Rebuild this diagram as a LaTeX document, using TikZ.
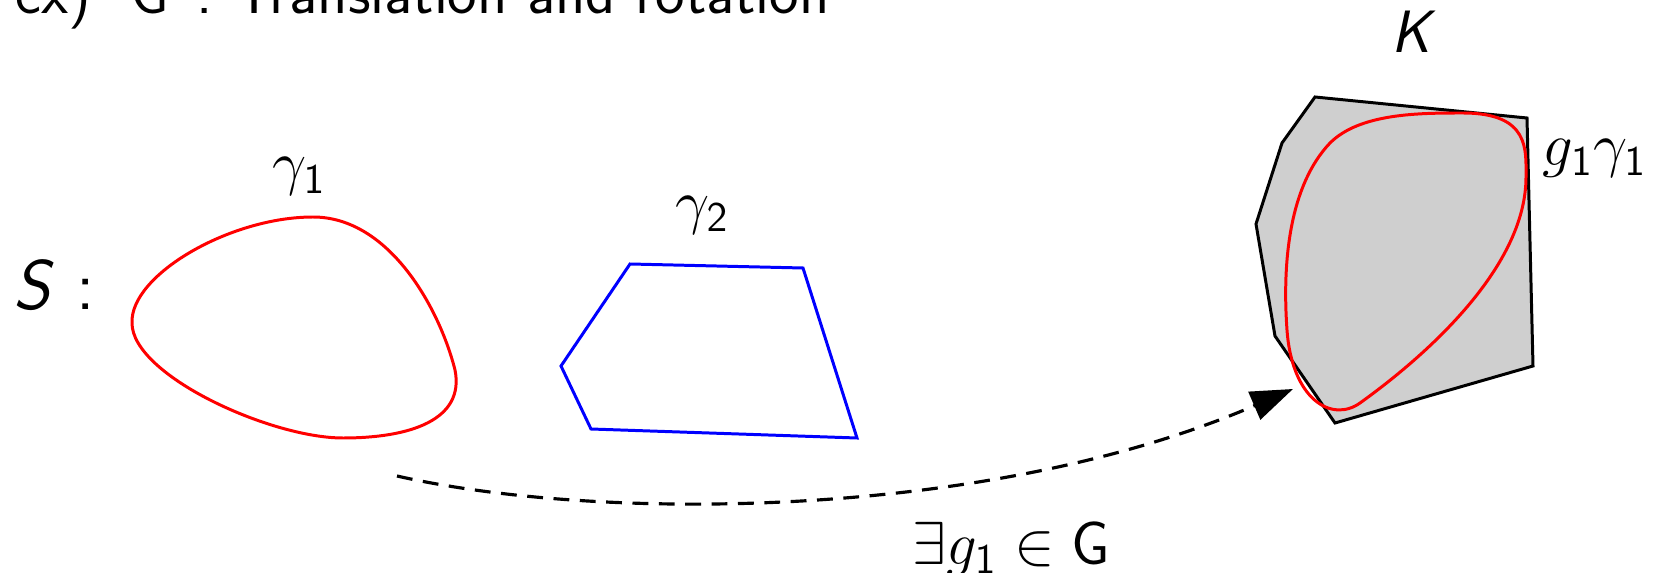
\documentclass[tikz,border=0pt]{standalone}
\usetikzlibrary{arrows.meta, positioning, calc}
\usepackage{amsmath}
\definecolor{hullgray}{RGB}{207,207,207}

\begin{document}
\begin{tikzpicture}[x=0.01cm, y=-0.01cm,
        lbl/.style={font=\fontsize{17}{20}\selectfont\sffamily, inner sep=0pt, anchor=base west},
        biglbl/.style={lbl, font=\fontsize{20}{24}\selectfont\sffamily},
        curve/.style={red, line width=0.85pt},
        poly/.style={blue, line width=0.85pt},
        hull/.style={draw=black, fill=hullgray, line width=0.85pt},
        arrow/.style={line width=0.9pt, dash pattern=on 4.5pt off 3pt, -{Triangle[length=12pt,width=8.5pt]}}
    ]
        \useasboundingbox (0,0) rectangle (1660,573);

        % title and set name
        \node[lbl, font=\fontsize{17.8}{21}\selectfont\sffamily] (title) at (15,14) {ex)\hspace{11pt}$\mathsf{G}$\hspace{8pt}:\hspace{6pt}Translation and rotation};
        \node[biglbl] (set) at (13,310) {\textsl{S} :};

        % the two curves of S
        \draw[curve] (132,323) .. controls (130,275) and (230,217) .. (313,217)
            .. controls (390,217) and (440,310) .. (455,370)
            .. controls (465,420) and (410,438) .. (343,438)
            .. controls (270,438) and (132,375) .. cycle;
        \node[lbl] (gam1) at (272,184) {$\gamma_{\mathsf{1}}$};

        \draw[poly] (630,264) -- (803,268) -- (857,438) -- (591,429) -- (561,366) -- cycle;
        \node[lbl] (gam2) at (675,222) {$\gamma_{\mathsf{2}}$};

        % convex set K with the moved curve
        \draw[hull] (1315,97) -- (1527,118) -- (1533,366) -- (1335,423) -- (1275,336) -- (1256,224) -- (1282,143) -- cycle;
        \draw[curve] (1463,113) .. controls (1530,113) and (1526,150) .. (1526,177)
            .. controls (1526,270) and (1420,360) .. (1360,403)
            .. controls (1332,423) and (1292,400) .. (1287,330)
            .. controls (1282,260) and (1290,185) .. (1330,143)
            .. controls (1360,113) and (1420,113) .. cycle;
        \node[lbl] (kset) at (1391,53) {\textsl{K}};
        \node[lbl] (moved) at (1542,166) {$g_{\mathsf{1}}\gamma_{\mathsf{1}}$};

        % the group element
        \coordinate (src) at (397,476);
        \coordinate (dst) at (1293,389);
        \draw[arrow] (src) .. controls (600,522) and (990,520) .. (dst);
        \node[lbl] (exists) at (912,564) {$\exists g_{\mathsf{1}}\in\mathsf{G}$};
    \end{tikzpicture}
\end{document}
